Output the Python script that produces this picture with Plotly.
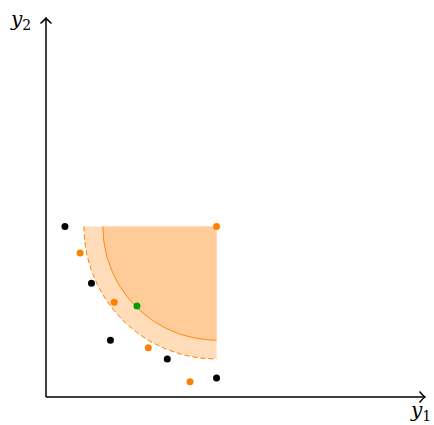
import numpy as np
import plotly.graph_objects as go

# ---- data ----
black_x = [0.5, 1.2, 1.7, 3.2, 4.5]
black_y = [4.5, 3.0, 1.5, 1.0, 0.5]
orange_x = [0.9, 1.8, 2.7, 3.8, 4.5]
orange_y = [3.8, 2.5, 1.3, 0.4, 4.5]
green_x = [2.4]
green_y = [2.4]
center = (4.5, 4.5)
outer_r = 3.5
inner_r = 3.0
axis_max = 10.0

S = 37.9  # px per unit
W, H = 434, 425
ox, oy = 46, 397

ORANGE = "rgb(255,128,0)"
LIGHT = "rgb(255,221,186)"
DARK = "rgb(255,203,153)"

def arc(r, n=80):
    t = np.linspace(np.pi, 1.5 * np.pi, n)
    return center[0] + r * np.cos(t), center[1] + r * np.sin(t)

fig = go.Figure()

def sector(r, color):
    ax, ay = arc(r)
    xs = [center[0]] + list(ax) + [center[0]]
    ys = [center[1]] + list(ay) + [center[1]]
    fig.add_trace(go.Scatter(x=xs, y=ys, fill="toself", fillcolor=color,
                             mode="none", hoverinfo="skip", showlegend=False))

sector(outer_r, LIGHT)
sector(inner_r, DARK)

ax_, ay_ = arc(outer_r)
fig.add_trace(go.Scatter(x=ax_, y=ay_, mode="lines",
                         line=dict(color=ORANGE, width=1, dash="5px,3px"),
                         showlegend=False, hoverinfo="skip"))
ax_, ay_ = arc(inner_r)
fig.add_trace(go.Scatter(x=ax_, y=ay_, mode="lines",
                         line=dict(color=ORANGE, width=0.9),
                         showlegend=False, hoverinfo="skip"))

fig.add_trace(go.Scatter(x=black_x, y=black_y, mode="markers",
                         marker=dict(color="black", size=7), showlegend=False))
fig.add_trace(go.Scatter(x=orange_x, y=orange_y, mode="markers",
                         marker=dict(color=ORANGE, size=7), showlegend=False))
fig.add_trace(go.Scatter(x=green_x, y=green_y, mode="markers",
                         marker=dict(color="rgb(0,160,0)", size=7), showlegend=False))

# axes
lw = 1.5
fig.add_shape(type="line", x0=0, y0=0, x1=axis_max, y1=0, line=dict(color="black", width=lw))
fig.add_shape(type="line", x0=0, y0=0, x1=0, y1=axis_max, line=dict(color="black", width=lw))
h = 5.5 / S
fig.add_shape(type="path",
              path=f"M {axis_max-h},{h} Q {axis_max-h*0.3},{h*0.2} {axis_max},0 Q {axis_max-h*0.3},{-h*0.2} {axis_max-h},{-h}",
              line=dict(color="black", width=lw))
fig.add_shape(type="path",
              path=f"M {-h},{axis_max-h} Q {-h*0.2},{axis_max-h*0.3} 0,{axis_max} Q {h*0.2},{axis_max-h*0.3} {h},{axis_max-h}",
              line=dict(color="black", width=lw))

lab_font = dict(family="DejaVu Serif", size=20, color="black")
fig.add_annotation(x=-0.66, y=9.95, text="<i>y</i><sub>2</sub>", showarrow=False, font=lab_font)
fig.add_annotation(x=9.88, y=-0.38, text="<i>y</i><sub>1</sub>", showarrow=False, font=lab_font)

fig.update_layout(
    width=W, height=H, margin=dict(l=0, r=0, t=0, b=0),
    plot_bgcolor="white", paper_bgcolor="white",
    xaxis=dict(range=[-ox / S, (W - ox) / S], visible=False, fixedrange=True),
    yaxis=dict(range=[-(H - oy) / S, oy / S], visible=False, fixedrange=True),
)
fig.write_html("out.html", config={"displayModeBar": False},
               post_script="document.body.style.margin='0';document.body.style.overflow='hidden';")
